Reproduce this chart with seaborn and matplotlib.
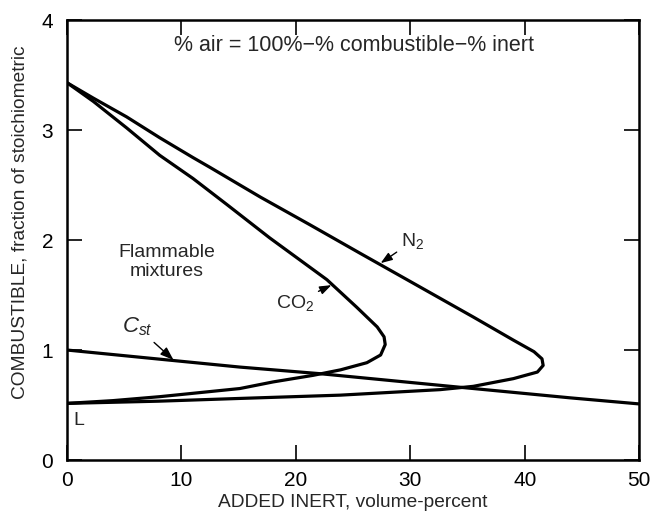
"""Flammability envelope: combustible vs added inert (N2, CO2) with the Cst line."""

import matplotlib

matplotlib.use("Agg")

import matplotlib.pyplot as plt
import pandas as pd
import seaborn as sns

# ── data ──
n2_inert = [0, 2.3, 5.2, 8.1, 11.0, 12.5, 16.9, 21.2, 25.6, 29.7, 35.5, 39.0, 40.8, 41.5, 41.6,
            41.1, 39.0, 35.5, 32.6, 23.9, 15.1, 8.0, 0]
n2_comb = [3.43, 3.29, 3.12, 2.93, 2.75, 2.66, 2.39, 2.14, 1.88, 1.64, 1.30, 1.09, 0.985, 0.92, 0.86,
           0.80, 0.74, 0.67, 0.64, 0.59, 0.56, 0.535, 0.515]

co2_inert = [0, 2.3, 5.2, 8.1, 11.0, 14.0, 17.7, 22.7, 25.3, 27.1, 27.7, 27.8, 27.4, 26.2, 23.9,
             21.5, 18.0, 15.1, 8.1, 4.0, 0]
co2_comb = [3.43, 3.26, 3.02, 2.77, 2.56, 2.32, 2.02, 1.64, 1.39, 1.21, 1.12, 1.05, 0.955, 0.885, 0.82,
            0.77, 0.71, 0.65, 0.576, 0.54, 0.515]

cst_inert = [0, 15.1, 22.1, 33.5, 44.0, 50]
cst_comb = [1.0, 0.845, 0.785, 0.67, 0.565, 0.51]

x_ticks = [0, 10, 20, 30, 40, 50]
y_ticks = [0, 1, 2, 3, 4]

sns.set_style("ticks")
plt.rcParams["font.family"] = ["Liberation Sans", "DejaVu Sans"]
plt.rcParams["mathtext.fontset"] = "custom"
plt.rcParams["mathtext.rm"] = "Liberation Sans"
plt.rcParams["mathtext.it"] = "Liberation Sans:italic"

fig = plt.figure(figsize=(6.51, 5.14), dpi=100)
ax = fig.add_axes([0.103, 0.105, 0.879, 0.856])

curves = [
    pd.DataFrame({"inert": n2_inert, "comb": n2_comb}),
    pd.DataFrame({"inert": co2_inert, "comb": co2_comb}),
    pd.DataFrame({"inert": cst_inert, "comb": cst_comb}),
]
for df in curves:
    sns.lineplot(data=df, x="inert", y="comb", sort=False, estimator=None,
                 color="black", linewidth=2.3, ax=ax)

ax.set_xlim(0, 50)
ax.set_ylim(0, 4)
ax.set_xticks(x_ticks)
ax.set_yticks(y_ticks)
ax.tick_params(direction="in", length=11, width=1.2, top=True, right=True,
               labelsize=15, colors="black")
ax.tick_params(axis="x", labeltop=False, pad=8)
ax.tick_params(axis="y", labelright=False, pad=10)
for spine in ax.spines.values():
    spine.set_linewidth(1.8)
    spine.set_color("black")

ax.set_xlabel("ADDED INERT, volume-percent", fontsize=13.8, labelpad=3)
ax.set_ylabel("COMBUSTIBLE, fraction of stoichiometric", fontsize=13.8)
ax.yaxis.set_label_coords(-0.068, 0.541)

ax.text(25.1, 3.77, "% air = 100%\u2212% combustible\u2212% inert", fontsize=15.5,
        ha="center", va="center")
ax.text(8.7, 1.80, "Flammable\nmixtures", fontsize=14, ha="center", va="center",
        linespacing=1.15)
ax.text(1.0, 0.36, "L", fontsize=14, ha="center", va="center")

arrow = dict(arrowstyle="-|>,head_length=0.5,head_width=0.18", color="black",
             lw=1.0, shrinkA=1, shrinkB=0)
ax.annotate(r"N$_2$", xy=(27.4, 1.79), xytext=(30.2, 1.99), fontsize=14,
            ha="center", va="center", arrowprops=arrow)
ax.annotate(r"CO$_2$", xy=(23.1, 1.59), xytext=(19.9, 1.43), fontsize=14,
            ha="center", va="center", arrowprops=arrow)
ax.annotate(r"$C_{st}$", xy=(9.3, 0.91), xytext=(6.1, 1.21), fontsize=16,
            ha="center", va="center", arrowprops=arrow)

fig.savefig("out.png", dpi=100)
plt.close(fig)
